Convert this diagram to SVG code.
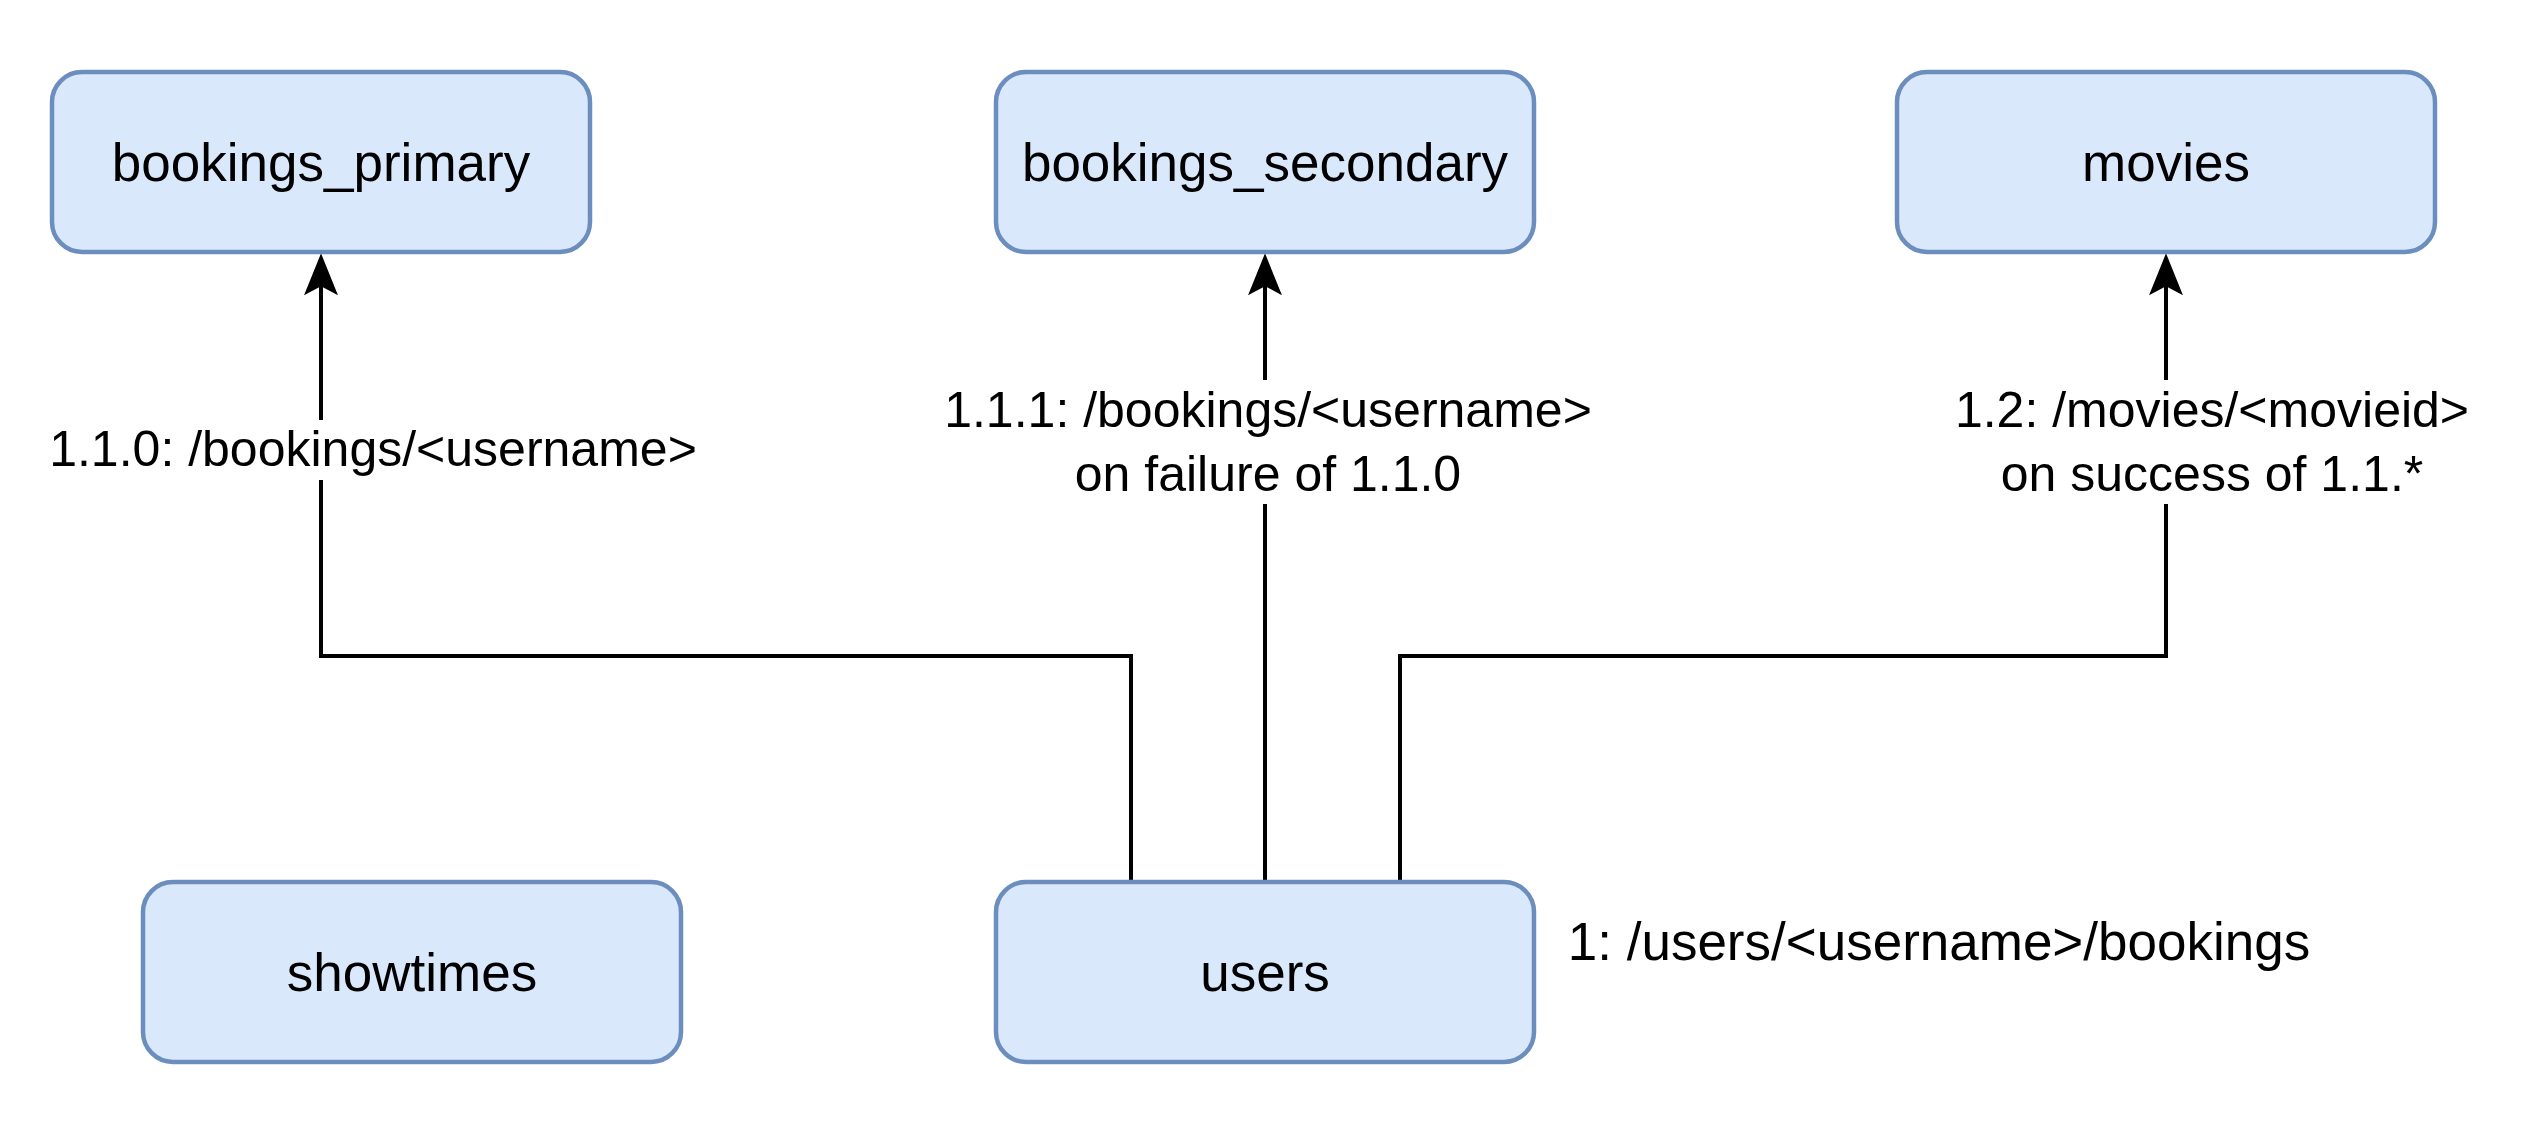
<svg xmlns="http://www.w3.org/2000/svg" width="2530" height="1138" viewBox="0 0 2530 1138">
<style>
.box{fill:#dae8fc;stroke:#6c8ebf;stroke-width:4.5}
.lbl{font-family:"Liberation Sans",Arial,Helvetica,sans-serif;font-size:53px;fill:#000;text-anchor:middle}
.elbl{font-family:"Liberation Sans",Arial,Helvetica,sans-serif;font-size:50px;fill:#000;text-anchor:middle}
.edge{fill:none;stroke:#000;stroke-width:4}
.head{fill:#000;stroke:#000;stroke-width:2;stroke-linejoin:miter}
.bg{fill:#fff}
</style>
<rect width="2530" height="1138" fill="#fff"/>
<g id="connectors">
<path class="edge" d="M1131 881 V656 H321 V270"/>
<path class="edge" d="M1265 881 V270"/>
<path class="edge" d="M1400 881 V656 H2166 V270"/>
<path class="head" d="M321 256 L336 293 L321 285 L306 293 Z"/>
<path class="head" d="M1265 256 L1280 293 L1265 285 L1250 293 Z"/>
<path class="head" d="M2166 256 L2181 293 L2166 285 L2151 293 Z"/>
<g id="label-110">
<rect class="bg" x="50" y="420" width="648" height="60"/>
<text class="elbl" x="373" y="466">1.1.0: /bookings/&lt;username&gt;</text>
</g>
<g id="label-111">
<rect class="bg" x="950" y="380" width="648" height="124"/>
<text class="elbl" x="1268" y="427">1.1.1: /bookings/&lt;username&gt;</text>
<text class="elbl" x="1268" y="491">on failure of 1.1.0</text>
</g>
<g id="label-12">
<rect class="bg" x="1954" y="380" width="516" height="124"/>
<text class="elbl" x="2212" y="427">1.2: /movies/&lt;movieid&gt;</text>
<text class="elbl" x="2212" y="491">on success of 1.1.*</text>
</g>
</g>
<g id="bookings_primary">
<rect class="box" x="52" y="72" width="538" height="180" rx="30"/>
<text class="lbl" x="321" y="181">bookings_primary</text>
</g>
<g id="bookings_secondary">
<rect class="box" x="996" y="72" width="538" height="180" rx="30"/>
<text class="lbl" x="1265" y="181">bookings_secondary</text>
</g>
<g id="movies">
<rect class="box" x="1897" y="72" width="538" height="180" rx="30"/>
<text class="lbl" x="2166" y="181">movies</text>
</g>
<g id="showtimes">
<rect class="box" x="143" y="882" width="538" height="180" rx="30"/>
<text class="lbl" x="412" y="991">showtimes</text>
</g>
<g id="users">
<rect class="box" x="996" y="882" width="538" height="180" rx="30"/>
<text class="lbl" x="1265" y="991">users</text>
</g>
<g id="label-1">
<text class="lbl" x="1939" y="960" font-size="54">1: /users/&lt;username&gt;/bookings</text>
</g>
</svg>
